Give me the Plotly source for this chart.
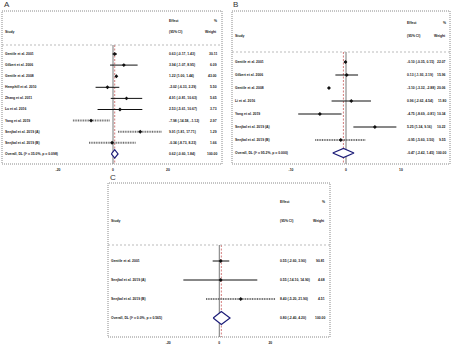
import plotly.graph_objects as go

W, H = 454, 345

# ---------------- data ----------------
studies_A = ["Gentile et al. 2001", "Gilbert et al. 2006", "Gentile et al. 2008",
             "Hemphill et al. 2010", "Zhang et al. 2011", "Lu et al. 2016",
             "Yang et al. 2019", "Senjkal et al. 2019 (A)", "Senjkal et al. 2019 (B)"]
est_A = [0.63, 3.94, 1.22, -2.02, 4.91, 2.53, -7.98, 9.91, -0.34]
lo_A = [-0.17, -1.07, 1.00, -6.33, -0.81, -5.61, -14.58, 1.81, -8.73]
hi_A = [1.43, 8.95, 1.44, 2.29, 10.63, 10.67, -1.12, 17.71, 8.23]
weight_A = [30.11, 6.09, 43.00, 5.50, 5.65, 3.73, 2.97, 1.29, 1.66]
gray_A = [False, False, False, False, False, False, True, True, True]
overall_A = [0.62, -0.60, 1.84]
overall_label_A = "Overall, DL (I² = 35.0%, p = 0.098)"
ticks_A = [-20, 0, 20]

studies_B = ["Gentile et al. 2001", "Gilbert et al. 2006", "Gentile et al. 2008",
             "Li et al. 2016", "Yang et al. 2019", "Senjkal et al. 2019 (A)",
             "Senjkal et al. 2019 (B)"]
est_B = [-0.10, 0.13, -3.10, 0.96, -4.75, 5.25, -0.95]
lo_B = [-0.35, -1.93, -3.32, -2.62, -8.69, 1.34, -5.60]
hi_B = [0.15, 2.19, -2.88, 4.54, -0.81, 9.16, 3.50]
weight_B = [22.07, 15.96, 20.06, 11.80, 10.34, 10.22, 9.55]
gray_B = [False, False, False, False, False, False, True]
overall_B = [-0.47, -2.42, 1.45]
overall_label_B = "Overall, DL (I² = 95.2%, p = 0.000)"
ticks_B = [-10, 0, 10]

studies_C = ["Gentile et al. 2001", "Senjkal et al. 2019 (A)", "Senjkal et al. 2019 (B)"]
est_C = [0.55, 0.55, 8.40]
lo_C = [-2.60, -14.10, -5.20]
hi_C = [3.90, 14.90, 21.90]
weight_C = [90.81, 4.68, 4.51]
gray_C = [False, False, True]
overall_C = [0.80, -2.40, 4.20]
overall_label_C = "Overall, DL (I² = 0.0%, p = 0.565)"
ticks_C = [-20, 0, 20]

# ---------------- layout geometry (pixels) ----------------
panels = [
    dict(name="A", ax="", box=(2, 11, 222, 164), zero=113, ppu=2.75, row0=54, step=11.1,
         sep=45, sx=3, ex=167, wx=219, dh=4.2, lab=(2, 4), hy=-1.0, ey=-2.0,
         studies=studies_A, est=est_A, lo=lo_A, hi=hi_A, w=weight_A, gray=gray_A,
         ov=overall_A, ovl=overall_label_A, ticks=ticks_A),
    dict(name="B", ax="2", box=(232, 11, 450, 164), zero=346, ppu=5.5, row0=62, step=13,
         sep=52, sx=233, ex=405, wx=448, dh=4.5, lab=(231, 5), hy=-1.0, ey=-2.0,
         studies=studies_B, est=est_B, lo=lo_B, hi=hi_B, w=weight_B, gray=gray_B,
         ov=overall_B, ovl=overall_label_B, ticks=ticks_B),
    dict(name="C", ax="3", box=(108, 183, 330, 337), zero=219.3, ppu=2.55, row0=261, step=19,
         sep=245, sx=109, ex=278, wx=327, dh=6.5, lab=(108, 177), hy=-1.1, ey=-2.1,
         studies=studies_C, est=est_C, lo=lo_C, hi=hi_C, w=weight_C, gray=gray_C,
         ov=overall_C, ovl=overall_label_C, ticks=ticks_C),
]

TXT = dict(family="Liberation Sans, Arial, sans-serif", size=3.4, color="#1a1a1a", weight="bold")

fig = go.Figure()
annotations = []
shapes = []
layout_axes = {}

for p in panels:
    L, T, R, B = p["box"]
    ax = p["ax"]
    xref = "x" + ax
    yref = "y" + ax
    xr = [(L - p["zero"]) / p["ppu"], (R - p["zero"]) / p["ppu"]]
    row = lambda px: 1 + (px - p["row0"]) / p["step"]
    yr = [row(B), row(T)]
    n = len(p["studies"])
    k_ov = n + 1
    sep = row(p["sep"])
    ybot = yr[0]

    layout_axes["xaxis" + ax] = dict(
        domain=[L / W, R / W], range=xr, anchor=yref, showgrid=False, zeroline=False,
        showline=False, tickvals=p["ticks"], ticktext=[str(t) for t in p["ticks"]],
        ticks="", ticklabelstandoff=3, tickfont=dict(TXT, size=3.4), fixedrange=True)
    layout_axes["yaxis" + ax] = dict(
        domain=[1 - B / H, 1 - T / H], range=yr, anchor=xref, visible=False, fixedrange=True)

    fig.add_trace(go.Scatter(x=[0, 0], y=[sep, ybot], mode="lines", xaxis=xref, yaxis=yref,
                             line=dict(color="#555555", width=0.8), hoverinfo="skip"))
    fig.add_trace(go.Scatter(x=[p["ov"][0], p["ov"][0]], y=[sep, ybot], mode="lines",
                             xaxis=xref, yaxis=yref,
                             line=dict(color="#c85a5a", width=0.8, dash="2px,1.5px"),
                             hoverinfo="skip"))

    for grey in (False, True):
        xs, ys = [], []
        for i in range(n):
            if p["gray"][i] == grey:
                xs += [p["lo"][i], p["hi"][i], None]
                ys += [i + 1, i + 1, None]
        if xs:
            fig.add_trace(go.Scatter(
                x=xs, y=ys, mode="lines", xaxis=xref, yaxis=yref, hoverinfo="skip",
                line=(dict(color="#6e6e6e", width=2, dash="1px,0.7px") if grey
                      else dict(color="#111111", width=1.0))))
    fig.add_trace(go.Scatter(x=p["est"], y=list(range(1, n + 1)), mode="markers",
                             xaxis=xref, yaxis=yref, hoverinfo="skip",
                             marker=dict(symbol="diamond", size=3, color="#111111")))

    e, lo, hi = p["ov"]
    dh = p["dh"] / p["step"]
    fig.add_trace(go.Scatter(x=[lo, e, hi, e, lo], y=[k_ov, k_ov - dh, k_ov, k_ov + dh, k_ov],
                             mode="lines", fill="toself", fillcolor="white",
                             xaxis=xref, yaxis=yref, hoverinfo="skip",
                             line=dict(color="#1c1c78", width=1.2)))

    shapes.append(dict(type="rect", xref="paper", yref="paper", x0=L / W, x1=R / W,
                       y0=1 - B / H, y1=1 - T / H,
                       line=dict(color="#8a8a8a", width=1, dash="1px,1px")))
    shapes.append(dict(type="line", xref="paper", yref=yref, x0=L / W, x1=R / W,
                       y0=sep, y1=sep, line=dict(color="#aaaaaa", width=0.8, dash="2px,2px")))

    def ann(text, xpx, y, anchor):
        annotations.append(dict(text=text, x=xpx / W, y=y, xref="paper", yref=yref,
                                xanchor=anchor, yanchor="middle", showarrow=False,
                                font=TXT))
    ann("Effect", p["ex"], p["ey"], "left")
    ann("%", p["wx"], p["ey"], "right")
    ann("Study", p["sx"], p["hy"], "left")
    ann("(95% CI)", p["ex"], p["hy"], "left")
    ann("Weight", p["wx"], p["hy"], "right")
    for i in range(n):
        ann(p["studies"][i], p["sx"], i + 1, "left")
        ann(f"{p['est'][i]:.2f} ({p['lo'][i]:.2f}, {p['hi'][i]:.2f})", p["ex"], i + 1, "left")
        ann(f"{p['w'][i]:.2f}", p["wx"], i + 1, "right")
    ann(p["ovl"], p["sx"], k_ov, "left")
    ann(f"{e:.2f} ({lo:.2f}, {hi:.2f})", p["ex"], k_ov, "left")
    ann("100.00", p["wx"], k_ov, "right")

    annotations.append(dict(text=p["name"], x=p["lab"][0] / W, y=1 - p["lab"][1] / H,
                            xref="paper", yref="paper", xanchor="left", yanchor="middle",
                            showarrow=False,
                            font=dict(family="Liberation Sans, Arial, sans-serif", size=8,
                                      color="#333333")))

fig.update_layout(
    width=W, height=H, autosize=False, margin=dict(l=0, r=0, t=0, b=0),
    paper_bgcolor="white", plot_bgcolor="white", showlegend=False,
    annotations=annotations, shapes=shapes, **layout_axes)

fig.write_html("out.html", config={"displayModeBar": False, "staticPlot": True},
               post_script="document.body.style.margin='0';document.body.style.padding='0';")
